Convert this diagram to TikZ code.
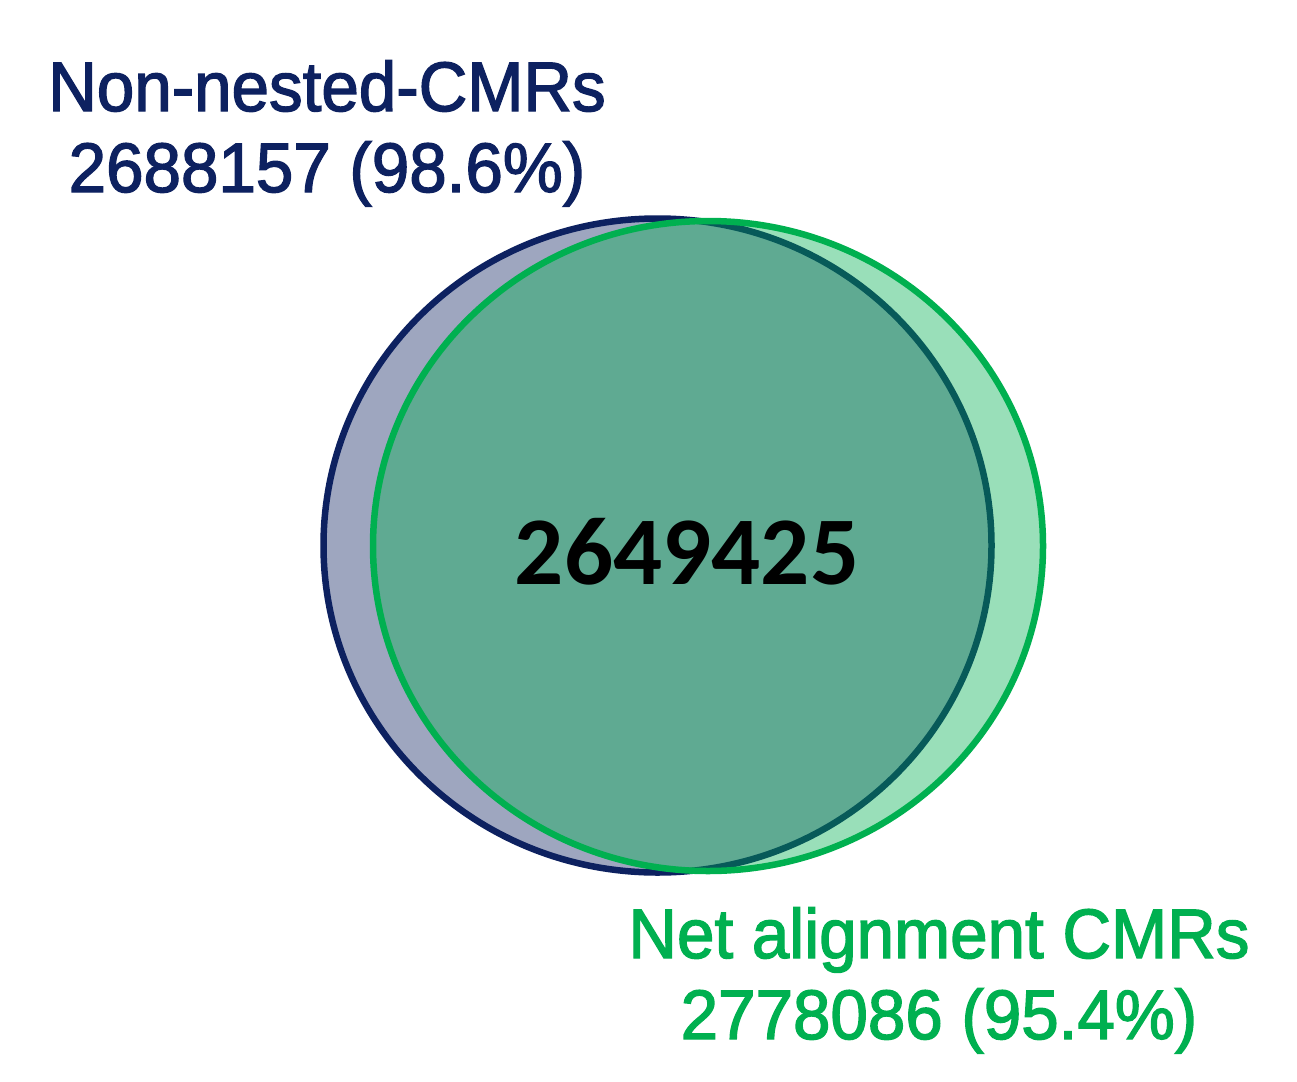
\documentclass[tikz,border=0pt]{standalone}
\usepackage{fontspec}
\setmainfont{Liberation Sans}
\newfontfamily\labelfont[FakeBold=2]{Liberation Sans}
\newfontfamily\numfont{Carlito}
\definecolor{navy}{HTML}{0D2160}
\definecolor{offgreen}{HTML}{00B050}
\newcommand{\twolines}[2]{\scalebox{0.962}[1]{\begin{tabular}[t]{@{}c@{}}#1\\#2\end{tabular}}}
\begin{document}
\begin{tikzpicture}[x=1pt,y=-1pt,
  setlabel/.style={align=center, inner sep=0pt, anchor=base,
    font=\labelfont\fontsize{70}{81}\selectfont},
  setshape/.style={line width=6.5pt, fill opacity=0.4}]
\useasboundingbox (0,0) rectangle (1297,1081);
\draw[setshape, draw=navy, fill=navy] (657.5,545.5) ellipse [x radius=334, y radius=327];
\draw[setshape, draw=offgreen, fill=offgreen] (708,546) ellipse [x radius=335, y radius=325];
\node[inner sep=0pt, font=\numfont\bfseries\fontsize{97}{100}\selectfont] (inter) at (687,552) {2649425};
\node[setlabel, text=navy] (blab) at (327,111) {\twolines{Non-nested-CMRs}{2688157 (98.6\%)}};
\node[setlabel, text=offgreen] (glab) at (939,958) {\twolines{Net alignment CMRs}{2778086 (95.4\%)}};
\end{tikzpicture}
\end{document}
